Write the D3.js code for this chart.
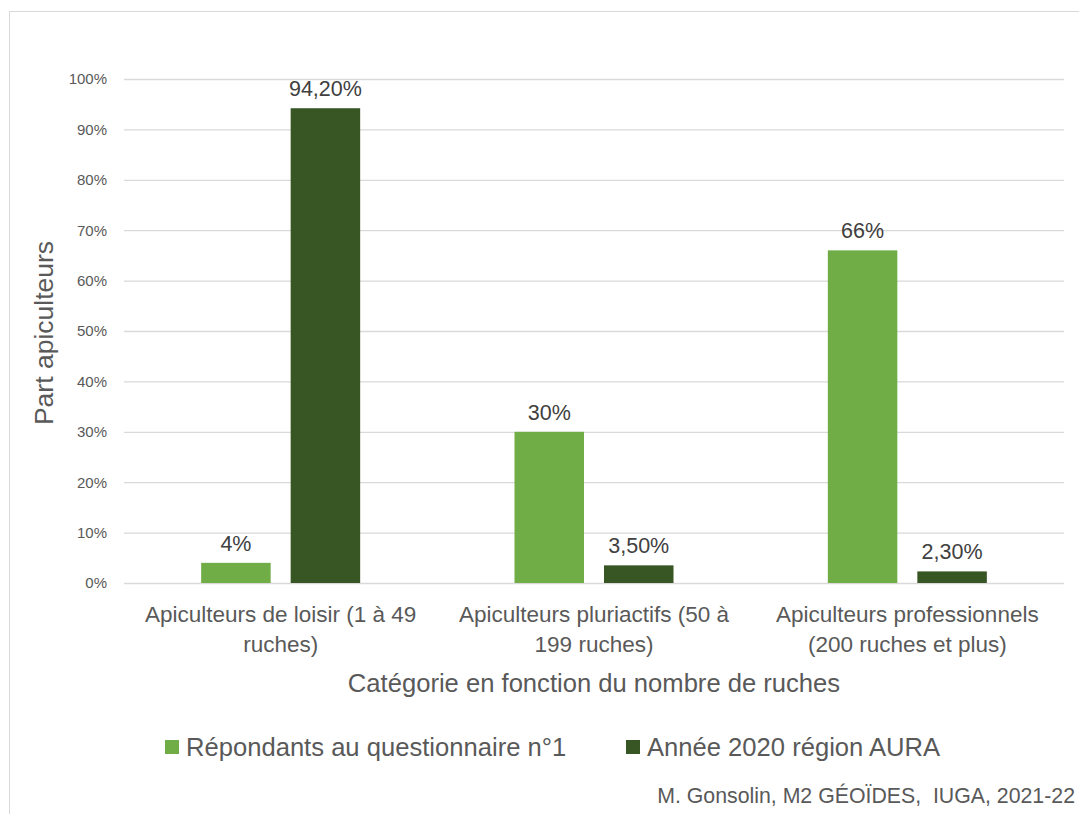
<!DOCTYPE html>
<html>
<head>
<meta charset="utf-8">
<script src="https://cdn.jsdelivr.net/npm/d3@7"></script>
<style>
  body { margin: 0; background: #fff; }
  svg text { font-family: "Liberation Sans", Arial, sans-serif; }
</style>
</head>
<body>
<svg id="chart" width="1079" height="814"></svg>
<script>
"use strict";

// data
var categories = [
  ["Apiculteurs de loisir (1 à 49", "ruches)"],
  ["Apiculteurs pluriactifs (50 à", "199 ruches)"],
  ["Apiculteurs professionnels", "(200 ruches et plus)"]
];
var seriesNames = ["Répondants au questionnaire n°1", "Année 2020 région AURA"];
var repondants = [0.04, 0.30, 0.66];
var annee2020 = [0.942, 0.035, 0.023];
var repondantsLabels = ["4%", "30%", "66%"];
var annee2020Labels = ["94,20%", "3,50%", "2,30%"];
var yTicks = [0, 0.1, 0.2, 0.3, 0.4, 0.5, 0.6, 0.7, 0.8, 0.9, 1.0];

var colors = ["#70ad47", "#375623"];

var svg = d3.select("#chart");
var margin = {left: 124, top: 79, right: 15, bottom: 231};
var width = 1079 - margin.left - margin.right,
    height = 814 - margin.top - margin.bottom;

// outer chart border
svg.append("rect")
  .attr("x", 9.5).attr("y", 11.5)
  .attr("width", 1200).attr("height", 1000)
  .attr("fill", "none").attr("stroke", "#d9d9d9");

var data = categories.map(function(c, i) {
  return {
    key: i,
    pr: [
      {key: 0, value: repondants[i], label: repondantsLabels[i]},
      {key: 1, value: annee2020[i], label: annee2020Labels[i]}
    ]
  };
});

var x0 = d3.scaleBand().domain(d3.range(categories.length)).range([0, width]);
var x1 = d3.scaleBand().domain([0, 1]).range([-79.5, 79.5]).paddingInner(0.2235);
var y = d3.scaleLinear().domain([0, 1]).range([height, 0]);

var g = svg.append("g")
  .attr("transform", "translate(" + margin.left + "," + margin.top + ")");

// gridlines + y tick labels
var yAxis = d3.axisLeft(y)
  .tickValues(yTicks)
  .tickSize(-width)
  .tickPadding(17)
  .tickFormat(function(d) { return Math.round(d * 100) + "%"; });

var ya = g.append("g").attr("class", "axis axis--y").call(yAxis);
ya.select(".domain").remove();
ya.selectAll("line").attr("stroke", "#d9d9d9").attr("stroke-width", 1.3);
ya.selectAll("text")
  .attr("fill", "#595959")
  .style("font-size", "15px");

// x tick labels (two lines)
var xa = g.append("g").attr("class", "axis axis--x")
  .attr("transform", "translate(0," + height + ")");
var xt = xa.selectAll(".tick").data(data).enter().append("g")
  .attr("class", "tick")
  .attr("transform", function(d) { return "translate(" + (x0(d.key) + x0.bandwidth() / 2) + ",0)"; });
xt.append("text")
  .attr("text-anchor", "middle")
  .attr("fill", "#595959")
  .style("font-size", "22.5px")
  .selectAll("tspan")
  .data(function(d) { return categories[d.key]; })
  .enter().append("tspan")
    .attr("x", 0)
    .attr("y", function(d, i) { return 39 + i * 30; })
    .text(function(d) { return d; });

// bars
var period = g.selectAll(".period").data(data).enter().append("g")
  .attr("class", "period")
  .attr("transform", function(d) { return "translate(" + (x0(d.key) + x0.bandwidth() / 2) + ",0)"; });

period.selectAll(".bar").data(function(d) { return d.pr; })
  .enter().append("rect")
  .attr("class", "bar")
  .attr("x", function(d) { return x1(d.key); })
  .attr("y", function(d) { return y(d.value); })
  .attr("width", x1.bandwidth())
  .attr("height", function(d) { return height - y(d.value); })
  .style("fill", function(d) { return colors[d.key]; });

period.selectAll(".lbl").data(function(d) { return d.pr; })
  .enter().append("text")
  .attr("class", "lbl")
  .attr("x", function(d) { return x1(d.key) + x1.bandwidth() / 2; })
  .attr("y", function(d) { return y(d.value) - 12; })
  .attr("text-anchor", "middle")
  .attr("fill", "#404040")
  .style("font-size", "21.5px")
  .text(function(d) { return d.label; });

// axis titles
svg.append("text")
  .attr("x", 594).attr("y", 692)
  .attr("text-anchor", "middle")
  .attr("fill", "#595959")
  .style("font-size", "25.6px")
  .text("Catégorie en fonction du nombre de ruches");

svg.append("text")
  .attr("transform", "translate(53,333)rotate(-90)")
  .attr("text-anchor", "middle")
  .attr("fill", "#595959")
  .style("font-size", "26.5px")
  .text("Part apiculteurs");

// legend
var legendX = [165, 626];
var legend = svg.selectAll(".legend").data(seriesNames).enter().append("g")
  .attr("class", "legend")
  .attr("transform", function(d, i) { return "translate(" + legendX[i] + ",740)"; });
legend.append("rect")
  .attr("width", 14).attr("height", 14)
  .style("fill", function(d, i) { return colors[i]; });
legend.append("text")
  .attr("x", 21).attr("y", 7)
  .attr("dy", ".35em")
  .attr("fill", "#595959")
  .style("font-size", "25.6px")
  .text(function(d) { return d; });

// credit
svg.append("text")
  .attr("x", 1075).attr("y", 803)
  .attr("text-anchor", "end")
  .attr("fill", "#595959")
  .style("font-size", "21.3px")
  .style("white-space", "pre")
  .text("M. Gonsolin, M2 GÉOÏDES,  IUGA, 2021-22");
</script>
</body>
</html>
